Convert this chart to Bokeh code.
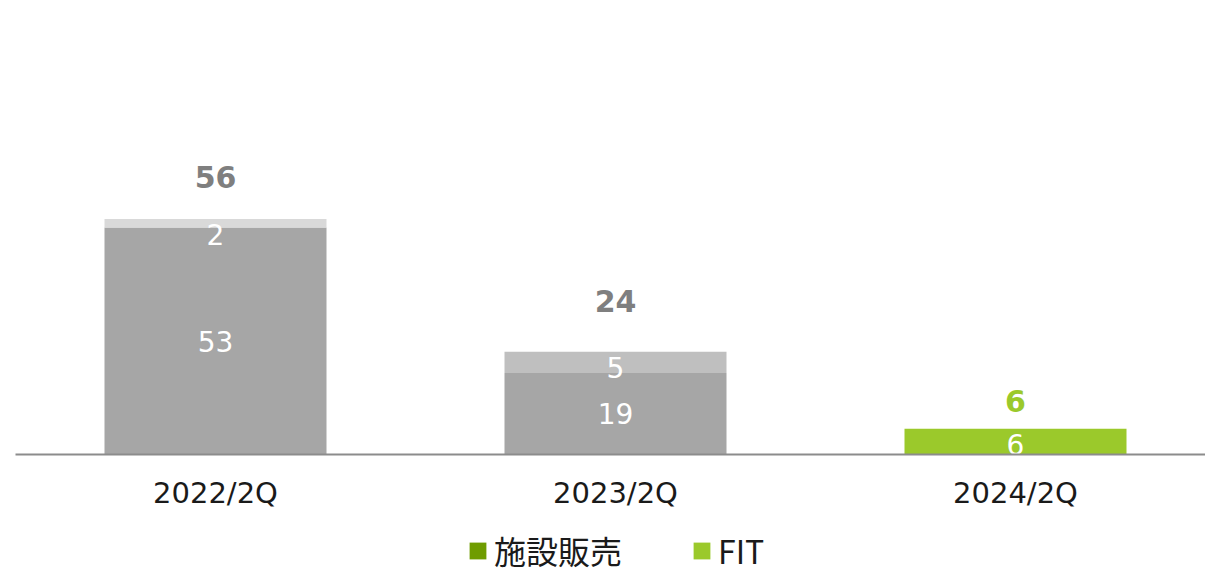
from bokeh.plotting import figure
from bokeh.layouts import column
from bokeh.models import ColumnDataSource, Range1d, FixedTicker, Legend, LegendItem
from bokeh.core.properties import value
from bokeh.embed import file_html
from bokeh.resources import INLINE

# --- data -------------------------------------------------------------
periods = ["2022/2Q", "2023/2Q", "2024/2Q"]
series_names = ["施設販売", "FIT"]
facility_sales = [53, 19, 0]
fit = [2, 5, 6]
totals = [56, 24, 6]

# --- styling ----------------------------------------------------------
bottom_colors = ["#a6a6a6", "#a6a6a6", "#6f9c00"]
top_colors = ["#d9d9d9", "#bfbfbf", "#9bc92b"]
total_colors = ["#7f7f7f", "#7f7f7f", "#9bc92b"]
legend_colors = ["#6f9c00", "#9bc92b"]
total_lift_px = [38, 51, 28]
NUM_FONT = "DejaVu Sans"
JP_FONT = "Noto Sans CJK JP"
BAR_W = 0.555
Y_MAX = 106

xs = [i + 0.5 for i in range(len(periods))]
stack_top = [a + b for a, b in zip(facility_sales, fit)]

p = figure(
    frame_width=1190, frame_height=454,
    x_range=Range1d(0, 2.975), y_range=Range1d(0, Y_MAX),
    output_backend="svg", toolbar_location=None,
    y_axis_location=None,
    min_border_left=15, min_border_right=0, min_border_top=0, min_border_bottom=52,
)
p.outline_line_color = None
p.xgrid.visible = False
p.ygrid.visible = False
p.background_fill_color = "white"
p.border_fill_color = "white"

bars = ColumnDataSource(dict(
    x=xs, fac=facility_sales, top=stack_top,
    c_bottom=bottom_colors, c_top=top_colors,
))
p.vbar(x="x", bottom=0, top="fac", width=BAR_W, fill_color="c_bottom",
       line_color=None, source=bars)
p.vbar(x="x", bottom="fac", top="top", width=BAR_W, fill_color="c_top",
       line_color=None, source=bars)

# segment value labels: centred in the segment, kept clear of the bar top
seg_x, seg_y, seg_t = [], [], []
for x, f, t, top in zip(xs, facility_sales, fit, stack_top):
    limit = top - 3.6
    for lo, v in ((0, f), (f, t)):
        if v > 0:
            seg_x.append(x)
            seg_y.append(min(lo + v / 2, limit))
            seg_t.append(str(v))
p.text(x=seg_x, y=seg_y, text=seg_t, text_color="white",
       text_font=value(NUM_FONT), text_font_size="28px",
       text_align="center", text_baseline="middle")

# totals above each bar
tot = ColumnDataSource(dict(
    x=xs, y=totals, t=[str(v) for v in totals], c=total_colors,
    off=[-v for v in total_lift_px],
))
p.text(x="x", y="y", text="t", y_offset="off", text_color="c",
       text_font=value(NUM_FONT), text_font_size="30px", text_font_style="bold",
       text_align="center", text_baseline="middle", source=tot)

# x axis
ax = p.xaxis[0]
ax.ticker = FixedTicker(ticks=xs)
ax.major_label_overrides = {x: lab for x, lab in zip(xs, periods)}
ax.major_tick_line_color = None
ax.minor_tick_line_color = None
ax.axis_line_color = "#8c8c8c"
ax.axis_line_width = 2
ax.major_label_text_font = NUM_FONT
ax.major_label_text_font_size = "29px"
ax.major_label_text_color = "#1a1a1a"
ax.major_label_standoff = 15

# legend strip underneath the chart
leg = figure(
    width=1205, height=65, x_range=Range1d(0, 1), y_range=Range1d(0, 1),
    output_backend="svg", toolbar_location=None,
    x_axis_location=None, y_axis_location=None,
    min_border=0,
)
leg.outline_line_color = None
leg.xgrid.visible = False
leg.ygrid.visible = False
# swatch renderers sit outside the visible range; only their legend glyphs show
proxies = [leg.vbar(x=[-5], top=[-5], width=0.1, fill_color=c, line_color=None)
           for c in legend_colors]
legend = Legend(
    items=[LegendItem(label=n, renderers=[r]) for n, r in zip(series_names, proxies)],
    orientation="horizontal", location=(452, 4),
    glyph_width=21, glyph_height=21, label_standoff=6, spacing=69,
    label_text_font=JP_FONT, label_text_font_size="32px", label_text_color="#1a1a1a",
    border_line_color=None, background_fill_alpha=0, padding=0, margin=0,
)
leg.add_layout(legend)

open("out.html", "w").write(file_html(column(p, leg, spacing=0), INLINE))
